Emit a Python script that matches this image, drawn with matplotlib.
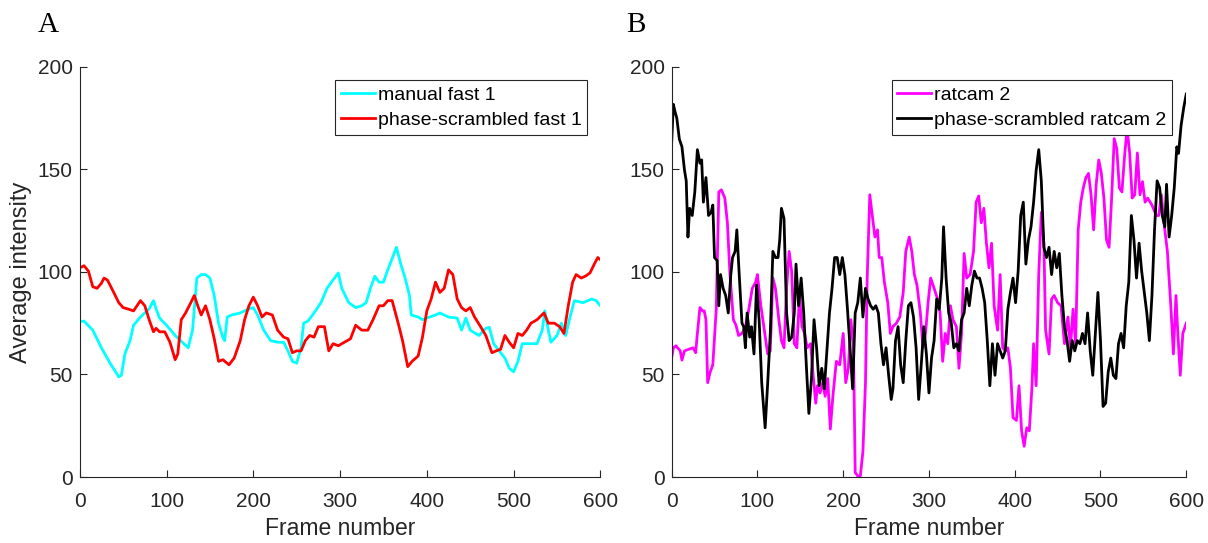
import numpy as np
import matplotlib
matplotlib.use("Agg")
import matplotlib.pyplot as plt

# Panel A: manual fast 1 vs phase-scrambled fast 1
manual_x = [0, 5, 15, 25, 35, 45, 48, 52, 58, 62, 70, 80, 85, 88, 92, 100, 110, 120, 125, 130,
            135, 140, 145, 150, 155, 160, 165, 167, 170, 175, 185, 195, 200, 205, 212, 220, 228, 235,
            240, 245, 250, 255, 258, 263, 270, 278, 285, 290, 298, 302, 310, 318, 325, 330, 335,
            340, 345, 350, 355, 365, 370, 375, 380, 382, 390, 395, 400, 410, 415, 425, 435, 440,
            445, 450, 460, 468, 472, 477, 482, 490, 495, 500, 505, 510, 520, 527, 533, 536, 540,
            543, 550, 555, 560, 565, 570, 580, 590, 595, 600]
manual_y = [75.8, 76, 71.6, 63, 55.5, 48.8, 49.6, 60, 66.5, 74, 78, 82, 86, 82, 77.5, 74, 69, 65, 63, 71.6,
            97, 98.7, 98.7, 97, 88.5, 75, 68, 66.5, 78, 79, 80, 82, 82.6, 79, 71.6, 66.5, 65.7, 65.7,
            61.5, 56.4, 55.5, 63, 75, 76, 80, 85, 92, 95, 99.5, 92, 85, 82.6, 83.5, 85, 92,
            97.9, 95, 95, 101, 112, 103.8, 97, 88.5, 79, 78, 76.7, 77.5, 79, 80, 78, 77.5, 71.6,
            77.5, 71.6, 69, 72.5, 73, 65, 62.3, 58, 53, 51.3, 56.4, 65, 65, 65, 71.6, 81, 71.6,
            65.7, 69, 75, 69, 78, 86, 85, 86.8, 86, 83.5]

scr_x = [0, 5, 10, 15, 20, 25, 28, 32, 38, 45, 50, 55, 62, 66, 70, 75, 80, 85, 88, 92, 98, 104, 110,
         113, 117, 122, 128, 132, 136, 140, 145, 150, 155, 160, 165, 172, 178, 185, 190, 195, 200,
         205, 210, 215, 222, 228, 235, 240, 245, 250, 255, 260, 265, 270, 275, 282, 287, 292, 298,
         305, 312, 318, 325, 332, 338, 345, 350, 355, 360, 367, 372, 378, 383, 390, 395, 400, 405,
         410, 415, 420, 425, 430, 435, 440, 445, 450, 455, 462, 468, 475, 480, 485, 490, 495, 500,
         505, 510, 515, 520, 527, 535, 540, 547, 553, 558, 563, 568, 572, 578, 583, 588, 593, 597, 600]
scr_y = [102, 103, 100.4, 92.8, 92, 94.5, 97, 96, 91, 85, 82.6, 82, 81, 83.5, 86, 83.5, 76.7, 70.8, 72.5,
         70.8, 70.8, 65.7, 57.2, 60, 76.7, 80, 85, 88.5, 83.5, 79, 83.5, 76.7, 67.4, 56.4, 57.2, 54.7,
         58, 66.5, 76.7, 83.5, 87.7, 83.5, 78, 80, 79, 71.6, 68.2, 67.4, 60.6, 61.5, 61.5, 66.5, 69,
         68.2, 73.3, 73.3, 61.5, 65, 64, 65.7, 67.4, 74, 71.6, 71.6, 76.7, 83.5, 83.5, 86, 86, 75,
         66.5, 53.8, 56.4, 59, 68.2, 81, 86.8, 95, 90, 92, 101, 98.7, 86.8, 82.6, 81, 82.6, 78, 73.3,
         69, 60.6, 61.5, 62.3, 69, 65.7, 63, 70, 69, 71.6, 75, 76.7, 80, 75, 75, 73.3, 70, 83.5, 95,
         98.7, 97, 98, 99.5, 103.8, 107, 106]

# Panel B: ratcam 2 vs phase-scrambled ratcam 2
ratcam_x = [0, 2, 5, 10, 12, 15, 20, 25, 28, 30, 33, 36, 38, 40, 42, 45, 48, 52, 55, 58, 62, 65, 68,
            72, 75, 78, 82, 86, 90, 94, 98, 100, 104, 108, 112, 115, 118, 121, 125, 128, 131, 134,
            137, 140, 143, 146, 149, 152, 155, 158, 162, 165, 168, 170, 173, 176, 179, 182, 185, 188,
            192, 196, 200, 203, 206, 209, 212, 214, 217, 220, 223, 226, 228, 231, 234, 237, 240, 242,
            245, 248, 252, 255, 258, 262, 266, 270, 273, 277, 280, 283, 286, 290, 293, 296, 299, 302,
            306, 310, 313, 316, 319, 322, 325, 328, 332, 335, 338, 341, 344, 348, 352, 355, 358, 361,
            364, 367, 370, 373, 376, 380, 383, 386, 389, 392, 395, 398, 402, 405, 408, 411, 414, 417,
            420, 422, 425, 428, 431, 434, 436, 440, 443, 446, 450, 454, 458, 462, 465, 468, 471, 474,
            477, 480, 483, 486, 489, 492, 495, 498, 501, 504, 507, 510, 513, 516, 519, 522, 525, 528,
            531, 534, 537, 540, 543, 546, 549, 552, 555, 560, 565, 568, 571, 574, 578, 582, 585, 588,
            590, 593, 596, 600]
ratcam_y = [58, 63, 64, 61.5, 57, 61.5, 62.3, 63, 60.6, 70, 82.6, 81, 81, 76.7, 46, 51.3, 54.7, 81.8,
            139, 140, 136, 124, 98.7, 76.7, 74, 69, 70, 73.3, 81.8, 92, 95, 98.7, 83.5, 71.6, 60, 61.5,
            97, 92, 76.7, 66.5, 63, 92, 110, 100, 65, 63, 88.5, 73.3, 70, 63, 65, 49.6, 36, 44.5, 41,
            46, 39.4, 48, 23.4, 39.4, 56.4, 54.7, 70, 46, 53, 76.7, 63, 2.2, 0.5, 0.5, 12.4, 46, 97,
            137.6, 127.5, 117, 120.5, 107, 107, 95, 85, 70, 73.3, 75, 78, 90, 110, 117, 110, 98.7, 93.6,
            80, 63, 70, 85, 97, 92, 86.8, 80, 56.4, 70, 65, 83.5, 76.7, 73.3, 53, 70, 109, 97, 98.7,
            110, 134, 137, 124, 131, 114, 102, 114, 83.5, 71.6, 98.7, 63, 61.5, 63, 53, 29, 27.6, 44.5,
            22.5, 15, 24, 22.5, 43, 65, 44.5, 98.7, 129, 114, 71.6, 60, 86.8, 88.5, 85, 83.5, 65, 78,
            63, 81.8, 65, 120.5, 134, 141, 146, 148, 137.6, 120.5, 142.7, 154.6, 148, 136, 115.6, 112,
            136, 165, 160, 141, 139, 156, 170, 158, 136, 137.6, 158, 137.6, 144, 134, 136, 132.6,
            127.5, 127.5, 137.6, 124, 110, 83.5, 60, 88.5, 71.6, 49.6, 70, 75]

black_x = [0, 2, 4, 6, 9, 12, 15, 17, 19, 21, 24, 27, 30, 33, 35, 37, 40, 43, 46, 48, 50, 53, 55, 57,
           60, 63, 66, 69, 71, 74, 76, 79, 82, 84, 86, 88, 91, 93, 96, 99, 102, 105, 109, 112, 115,
           118, 121, 124, 126, 128, 131, 134, 137, 140, 143, 145, 148, 151, 154, 157, 160, 163, 166,
           169, 172, 175, 178, 181, 184, 187, 190, 193, 196, 199, 202, 205, 208, 211, 214, 217, 220,
           223, 226, 229, 232, 235, 238, 241, 244, 247, 250, 253, 256, 258, 261, 264, 267, 270, 273,
           276, 279, 282, 285, 288, 291, 294, 297, 300, 303, 306, 309, 312, 315, 317, 320, 323, 326,
           329, 332, 335, 338, 341, 344, 347, 350, 353, 356, 359, 362, 365, 368, 371, 374, 377, 380,
           383, 386, 389, 392, 395, 398, 401, 404, 407, 410, 413, 416, 419, 422, 425, 428, 431, 434,
           437, 440, 443, 446, 449, 452, 455, 458, 461, 464, 467, 470, 473, 476, 479, 482, 485, 488,
           491, 494, 497, 500, 503, 506, 509, 512, 515, 518, 521, 524, 527, 530, 533, 536, 539, 542,
           545, 548, 551, 554, 557, 560, 563, 566, 569, 572, 575, 577, 580, 583, 586, 589, 591, 594,
           597, 600]
black_y = [163, 181.7, 178, 175, 164.7, 161, 149.5, 144.4, 117, 131, 127.5, 139, 159.6, 153, 154.6, 134,
           146, 127.5, 129, 132.6, 107, 105.5, 83.5, 98.7, 92, 88.5, 80, 98.7, 107, 110, 120.5, 97, 75,
           73.3, 63, 80, 68.2, 73.3, 60, 93.6, 76.7, 46, 24, 46, 70, 110, 107, 107, 115.6, 131, 126, 80,
           66.5, 68.2, 80, 103.8, 83.5, 97, 80, 54.7, 31, 48, 76.7, 63, 44.5, 53, 43, 61.5, 80, 92, 107,
           107, 98.7, 107, 98.7, 81.8, 63, 43, 80, 85, 97, 78, 92, 86.8, 83.5, 81.8, 83.5, 80, 65, 54.7,
           63, 49.6, 37.8, 43, 66.5, 73.3, 54.7, 46, 66.5, 83.5, 85, 78, 63, 37.8, 54.7, 73.3, 60, 41,
           58, 66.5, 86.8, 81.8, 97, 122, 97, 80, 75, 63, 65, 61.5, 76.7, 80, 92, 83.5, 93.6, 100.4,
           97, 97, 92, 85, 66.5, 44.5, 65, 49.6, 65, 61.5, 58, 61.5, 81.8, 90, 97, 85, 100.4, 127.5,
           134, 103.8, 115.6, 122, 134, 149.5, 159.6, 144.4, 112, 107, 112, 98.7, 110, 102, 109, 88.5,
           73.3, 66.5, 56.4, 66.5, 61.5, 66.5, 65, 70, 65, 80, 61.5, 49.6, 70, 90, 66.5, 34.4, 36, 51.3,
           58, 49.6, 48, 65, 70, 63, 83.5, 95, 127.5, 115.6, 97, 114, 100.4, 90, 80, 66.5, 88.5, 120.5,
           144.4, 141, 127.5, 122, 142.7, 117, 127.5, 141, 161, 157.8, 171.5, 180, 186.7]

ticks_x = [0, 100, 200, 300, 400, 500, 600]
ticks_y = [0, 50, 100, 150, 200]

plt.rcParams['font.family'] = ['Liberation Sans', 'DejaVu Sans']
axis_col = '#262626'

fig = plt.figure(figsize=(12.08, 5.43), dpi=100)
ax_a = fig.add_axes([0.066, 0.1215, 0.431, 0.7555])
ax_b = fig.add_axes([0.556, 0.1215, 0.426, 0.7555])


def style(ax):
    ax.set_xlim(0, 600)
    ax.set_ylim(0, 200)
    ax.set_xticks(ticks_x)
    ax.set_yticks(ticks_y)
    for s in ['top', 'right']:
        ax.spines[s].set_visible(False)
    for s in ['left', 'bottom']:
        ax.spines[s].set_color(axis_col)
        ax.spines[s].set_linewidth(0.8)
    ax.tick_params(direction='in', length=5, width=0.8, colors=axis_col,
                   labelsize=15, pad=5)
    ax.tick_params(axis='x', pad=11)
    ax.set_xlabel('Frame number', fontsize=16.5, color=axis_col, labelpad=4)


def add_legend(ax, right):
    leg = ax.legend(loc='upper right', bbox_to_anchor=(right, 0.967), borderaxespad=0,
                    fontsize=14, fancybox=False, framealpha=1, handlelength=1.75,
                    handletextpad=0.15, borderpad=0.3, labelspacing=0.4)
    leg.get_frame().set_edgecolor(axis_col)
    leg.get_frame().set_linewidth(0.8)


ax_a.plot(manual_x, manual_y, color='#00FFFF', lw=2, label='manual fast 1')
ax_a.plot(scr_x, scr_y, color='#FF0000', lw=2, label='phase-scrambled fast 1')
style(ax_a)
ax_a.set_ylabel('Average intensity', fontsize=17, color=axis_col, labelpad=4)
add_legend(ax_a, 0.975)

ax_b.plot(ratcam_x, ratcam_y, color='#FF00FF', lw=2, label='ratcam 2')
ax_b.plot(black_x, black_y, color='black', lw=2, label='phase-scrambled ratcam 2')
style(ax_b)
add_legend(ax_b, 0.973)

fig.text(0.040, 0.954, 'A', fontsize=21, family='Liberation Serif', ha='center', va='center')
fig.text(0.5265, 0.954, 'B', fontsize=21, family='Liberation Serif', ha='center', va='center')

fig.savefig('out.png', dpi=100)
